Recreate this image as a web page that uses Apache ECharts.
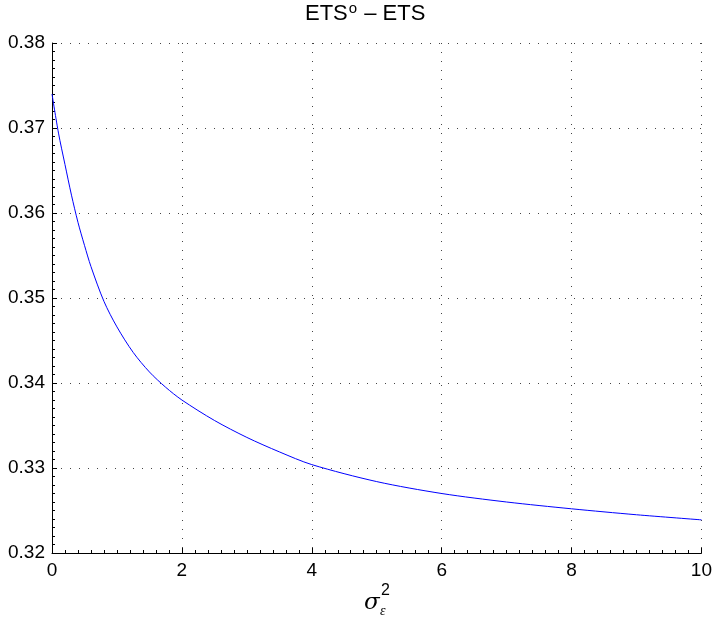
<!DOCTYPE html>
<html>
<head>
<meta charset="utf-8">
<script src="https://cdn.jsdelivr.net/npm/echarts@6/dist/echarts.min.js"></script>
<style>html,body{margin:0;padding:0;background:#fff}#c{width:715px;height:623px}</style>
</head>
<body>
<div id="c"></div>
<script>
var xValues = [0, 0.1, 0.2, 0.3, 0.4, 0.5, 0.6, 0.8, 1.0, 1.25, 1.5, 1.75, 2.0, 2.5, 3.0, 3.5, 4.0, 5, 6, 7, 8, 9, 10];
var yValues = [0.3740, 0.3694, 0.3657, 0.3621, 0.3589, 0.3562, 0.3537, 0.3496, 0.3466, 0.3436, 0.3413, 0.3395, 0.3380, 0.3356, 0.3336, 0.3319, 0.3304, 0.3284, 0.3270, 0.3260, 0.3252, 0.3245, 0.3239];
var xTicks = [0, 2, 4, 6, 8, 10];
var yTicks = [0.32, 0.33, 0.34, 0.35, 0.36, 0.37, 0.38];

var font = '"Liberation Sans", Arial, Helvetica, sans-serif';
var data = xValues.map(function (x, i) { return [x, yValues[i]]; });
var chart = echarts.init(document.getElementById('c'), null, { renderer: 'canvas' });
var gridLine = { show: true, lineStyle: { color: '#444', width: 1, type: [1, 8] } };
chart.setOption({
  animation: false,
  backgroundColor: '#fff',
  title: {
    text: 'ETS{sup|o} – ETS',
    left: 300, top: -4,
    textStyle: {
      fontFamily: font, fontSize: 22, fontWeight: 'normal', color: '#000',
      rich: { sup: { fontFamily: font, fontSize: 15, verticalAlign: 'top', color: '#000', padding: [0, 1, 10, 1] } }
    }
  },
  grid: { left: 52, right: 12, top: 43, bottom: 70, containLabel: false },
  xAxis: {
    type: 'value', min: xTicks[0], max: xTicks[xTicks.length - 1], interval: 2,
    axisLine: { show: true, onZero: false, lineStyle: { color: '#000', width: 1 } },
    axisTick: { show: true, inside: true, length: 5, lineStyle: { color: '#000' } },
    minorTick: { show: true, splitNumber: 10, length: 3, lineStyle: { color: '#000' } },
    axisLabel: { fontFamily: font, fontSize: 19, color: '#000', margin: 8 },
    splitLine: gridLine
  },
  yAxis: {
    type: 'value', min: yTicks[0], max: yTicks[yTicks.length - 1], interval: 0.01,
    axisLine: { show: true, onZero: false, lineStyle: { color: '#000', width: 1 } },
    axisTick: { show: true, inside: true, length: 5, lineStyle: { color: '#000' } },
    minorTick: { show: true, splitNumber: 10, length: 3, lineStyle: { color: '#000' } },
    axisLabel: { fontFamily: font, fontSize: 19, color: '#000', margin: 7, formatter: function (v) { return v.toFixed(2); } },
    splitLine: gridLine
  },
  graphic: [
    { type: 'text', left: 364, top: 592, style: { text: 'σ', font: 'italic 23px "DejaVu Serif", "Liberation Serif", serif', fill: '#000' } },
    { type: 'text', left: 381, top: 583, style: { text: '2', font: '16px ' + font, fill: '#000' } },
    { type: 'text', left: 380, top: 604, style: { text: 'ε', font: 'italic 14px "Liberation Serif", serif', fill: '#000' } }
  ],
  series: [{
    type: 'line', data: data, showSymbol: false, smooth: 0.3,
    lineStyle: { color: '#0000ff', width: 1 }, itemStyle: { color: '#0000ff' }
  }]
});
</script>
</body>
</html>
